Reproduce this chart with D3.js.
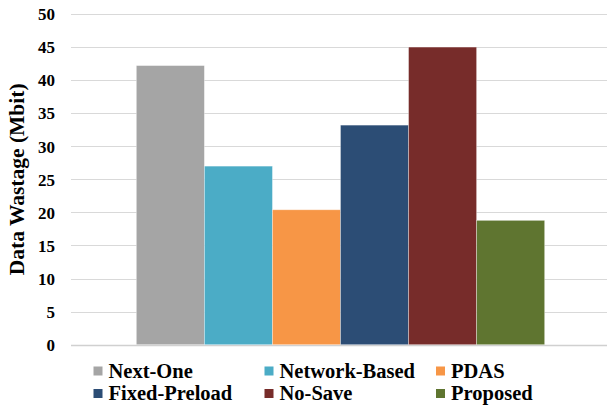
<!DOCTYPE html>
<html>
<head>
<meta charset="utf-8">
<script src="https://cdn.jsdelivr.net/npm/d3@7"></script>
<style>
  html, body { margin: 0; padding: 0; background: #fff; }
  svg { display: block; }
</style>
</head>
<body>
<script>
// Data wastage per prefetching scheme
const category = ["Data Wastage"];
const schemes = ["Next-One", "Network-Based", "PDAS", "Fixed-Preload", "No-Save", "Proposed"];
const wastage = [42.2, 27.0, 20.4, 33.2, 45.0, 18.8];
const colors = ["#A5A5A5", "#4BACC6", "#F79646", "#2C4D75", "#772C2A", "#5F7530"];
const yTicks = [0, 5, 10, 15, 20, 25, 30, 35, 40, 45, 50];

const FONT = '"Liberation Serif", Tinos, "Times New Roman", serif';
const W = 607, H = 406;
const plot = { left: 71, right: 610, top: 14, bottom: 344.7 };

const svg = d3.select("body").append("svg")
  .attr("width", W).attr("height", H);

const y = d3.scaleLinear().domain([0, 50]).range([plot.bottom, plot.top]);

const x0 = d3.scaleBand().domain(category)
  .range([plot.left, plot.right]).paddingInner(0).paddingOuter(0.16);
const x1 = d3.scaleBand().domain(schemes)
  .range([0, x0.bandwidth()]).padding(0);
const color = d3.scaleOrdinal().domain(schemes).range(colors);

// horizontal gridlines
svg.append("g").selectAll("line").data(yTicks).join("line")
  .attr("x1", plot.left).attr("x2", W)
  .attr("y1", d => Math.round(y(d)) + 0.5).attr("y2", d => Math.round(y(d)) + 0.5)
  .attr("stroke", d => d === 0 ? "#d0d0d0" : "#d9d9d9")
  .attr("stroke-width", d => d === 0 ? 1.5 : 1);

// y axis tick labels
const yAxis = d3.axisLeft(y).tickValues(yTicks).tickSize(0).tickPadding(0);
const gy = svg.append("g").attr("transform", `translate(55,0)`).call(yAxis);
gy.select(".domain").remove();
gy.selectAll("text")
  .style("font-family", FONT)
  .style("font-weight", "bold")
  .style("font-size", "17px")
  .attr("fill", "#000")
  .attr("dy", "0.34em");

// bars
const data = schemes.map((s, i) => ({ key: s, value: wastage[i] }));
svg.append("g").attr("transform", `translate(${x0(category[0])},0)`)
  .selectAll("rect").data(data).join("rect")
  .attr("x", d => x1(d.key))
  .attr("y", d => y(d.value))
  .attr("width", x1.bandwidth())
  .attr("height", d => y(0) - y(d.value))
  .attr("fill", d => color(d.key))
  .attr("stroke", "#ffffff").attr("stroke-opacity", 0.45).attr("stroke-width", 0.75);

// y axis title
svg.append("text")
  .attr("transform", `translate(24,${(plot.top + plot.bottom) / 2}) rotate(-90)`)
  .attr("text-anchor", "middle")
  .style("font-family", FONT)
  .style("font-weight", "bold")
  .style("font-size", "21.5px")
  .attr("fill", "#000")
  .text("Data Wastage (Mbit)");

// legend, two rows of three
const legendCols = [108.5, 279.5, 451];
const legendRows = [377.5, 400];
const legend = svg.append("g").selectAll("g").data(data).join("g")
  .attr("transform", (d, i) => `translate(${legendCols[i % 3]},${legendRows[Math.floor(i / 3)]})`);
legend.append("rect")
  .attr("x", -15).attr("y", -11).attr("width", 9).attr("height", 9)
  .attr("fill", d => color(d.key));
legend.append("text")
  .attr("x", 0).attr("y", 0)
  .style("font-family", FONT)
  .style("font-weight", "bold")
  .style("font-size", "20.5px")
  .attr("fill", "#000")
  .text(d => d.key);
</script>
</body>
</html>
